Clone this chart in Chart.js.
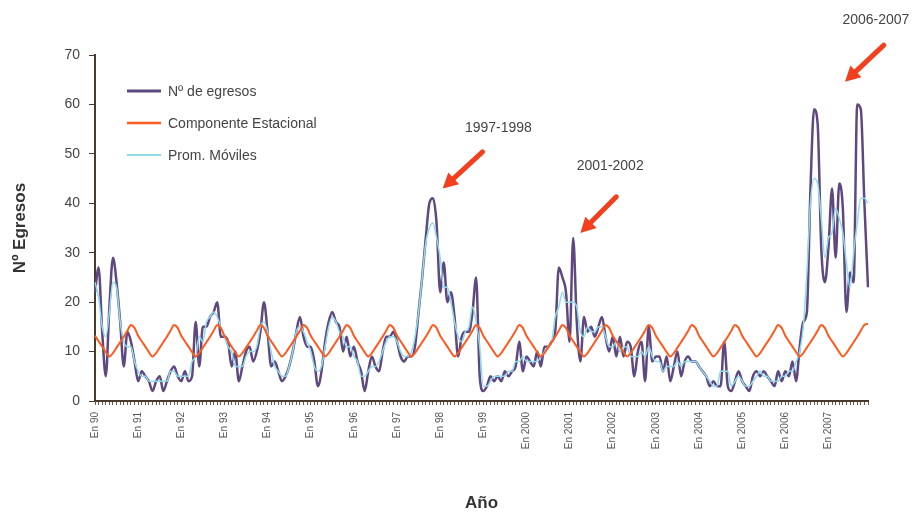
<!DOCTYPE html>
<html>
<head>
<meta charset="utf-8">
<script src="https://cdn.jsdelivr.net/npm/chart.js@4.4.0/dist/chart.umd.min.js"></script>
<style>
  html, body { margin: 0; padding: 0; background: #fff; }
</style>
</head>
<body>
<canvas id="chart" width="918" height="514"></canvas>
<script>
const years = ['En 90', 'En 91', 'En 92', 'En 93', 'En 94', 'En 95', 'En 96', 'En 97', 'En 98', 'En 99',
  'En 2000', 'En 2001', 'En 2002', 'En 2003', 'En 2004', 'En 2005', 'En 2006', 'En 2007'];

// monthly values, one row per year (Jan..Dec)
const egresos = [
  22, 27, 14, 5, 19, 29, 24, 16, 7, 14, 12, 8,
  4, 6, 5, 4, 2, 4, 5, 2, 4, 6, 7, 5,
  4, 6, 4, 5, 16, 7, 15, 15, 17, 18, 20, 13,
  13, 12, 7, 10, 4, 7, 10, 11, 8, 10, 14, 20,
  14, 7, 8, 6, 4, 5, 7, 10, 14, 17, 13, 11,
  11, 8, 3, 6, 12, 16, 18, 16, 15, 10, 13, 9,
  11, 8, 6, 2, 6, 9, 7, 6, 10, 13, 13, 14,
  12, 9, 8, 9, 9, 11, 18, 25, 33, 40, 41, 36,
  22, 28, 20, 22, 17, 9, 13, 14, 14, 18, 25, 5,
  2, 3, 5, 4, 5, 4, 6, 5, 6, 7, 12, 6,
  9, 8, 7, 10, 7, 11, 11, 12, 14, 27, 25, 22,
  12, 33, 16, 8, 17, 14, 15, 13, 15, 17, 13, 10,
  13, 9, 13, 9, 12, 11, 5, 10, 12, 4, 15, 8,
  9, 9, 6, 9, 4, 7, 10, 5, 8, 9, 8, 8,
  7, 6, 5, 3, 4, 3, 3, 12, 3, 2, 4, 6,
  4, 3, 2, 5, 6, 5, 6, 5, 4, 3, 6, 4,
  6, 5, 8, 4, 11, 16, 18, 43, 59, 56, 31, 24,
  31, 43, 29, 44, 39, 18, 26, 24, 60, 59, 40, 23
];

const componenteEstacional = [
  13.2, 12.1, 11.0, 9.9, 9.0, 9.7, 10.8, 11.9, 13.0, 14.2, 15.4, 14.8,
  13.2, 12.1, 11.0, 9.9, 9.0, 9.7, 10.8, 11.9, 13.0, 14.2, 15.4, 14.8,
  13.2, 12.1, 11.0, 9.9, 9.0, 9.7, 10.8, 11.9, 13.0, 14.2, 15.4, 14.8,
  13.2, 12.1, 11.0, 9.9, 9.0, 9.7, 10.8, 11.9, 13.0, 14.2, 15.4, 14.8,
  13.2, 12.1, 11.0, 9.9, 9.0, 9.7, 10.8, 11.9, 13.0, 14.2, 15.4, 14.8,
  13.2, 12.1, 11.0, 9.9, 9.0, 9.7, 10.8, 11.9, 13.0, 14.2, 15.4, 14.8,
  13.2, 12.1, 11.0, 9.9, 9.0, 9.7, 10.8, 11.9, 13.0, 14.2, 15.4, 14.8,
  13.2, 12.1, 11.0, 9.9, 9.0, 9.7, 10.8, 11.9, 13.0, 14.2, 15.4, 14.8,
  13.2, 12.1, 11.0, 9.9, 9.0, 9.7, 10.8, 11.9, 13.0, 14.2, 15.4, 14.8,
  13.2, 12.1, 11.0, 9.9, 9.0, 9.7, 10.8, 11.9, 13.0, 14.2, 15.4, 14.8,
  13.2, 12.1, 11.0, 9.9, 9.0, 9.7, 10.8, 11.9, 13.0, 14.2, 15.4, 14.8,
  13.2, 12.1, 11.0, 9.9, 9.0, 9.7, 10.8, 11.9, 13.0, 14.2, 15.4, 14.8,
  13.2, 12.1, 11.0, 9.9, 9.0, 9.7, 10.8, 11.9, 13.0, 14.2, 15.4, 14.8,
  13.2, 12.1, 11.0, 9.9, 9.0, 9.7, 10.8, 11.9, 13.0, 14.2, 15.4, 14.8,
  13.2, 12.1, 11.0, 9.9, 9.0, 9.7, 10.8, 11.9, 13.0, 14.2, 15.4, 14.8,
  13.2, 12.1, 11.0, 9.9, 9.0, 9.7, 10.8, 11.9, 13.0, 14.2, 15.4, 14.8,
  13.2, 12.1, 11.0, 9.9, 9.0, 9.7, 10.8, 11.9, 13.0, 14.2, 15.4, 14.8,
  13.2, 12.1, 11.0, 9.9, 9.0, 9.7, 10.8, 11.9, 13.0, 14.2, 15.4, 15.6
];

const promMoviles = [
  24, 21, 15, 13, 18, 24, 23, 16, 12, 11, 11, 8,
  6, 5, 5, 4, 4, 4, 4, 4, 4, 6, 6, 5,
  5, 5, 5, 8, 9, 13, 12, 16, 17, 18, 17, 15,
  13, 11, 10, 7, 7, 7, 9, 10, 10, 11, 15, 16,
  14, 10, 7, 6, 5, 5, 7, 10, 14, 15, 14, 12,
  10, 7, 6, 7, 11, 15, 17, 16, 14, 13, 11, 11,
  9, 8, 5, 5, 6, 7, 7, 8, 10, 12, 13, 13,
  12, 10, 9, 9, 10, 13, 18, 25, 32, 35, 36, 33,
  29, 23, 23, 20, 16, 13, 12, 14, 15, 19, 16, 11,
  3, 3, 4, 5, 5, 5, 5, 6, 6, 8, 8, 9,
  8, 8, 8, 8, 9, 10, 11, 12, 17, 19, 22, 20,
  20, 20, 19, 14, 13, 15, 14, 14, 15, 15, 13, 11,
  11, 12, 10, 11, 11, 9, 9, 9, 10, 9, 11, 9,
  8, 8, 6, 7, 7, 7, 8, 7, 8, 8, 8, 8,
  7, 6, 5, 4, 3, 3, 6, 6, 6, 3, 4, 5,
  4, 3, 3, 4, 5, 6, 5, 5, 4, 4, 4, 5,
  5, 6, 6, 8, 10, 15, 26, 40, 45, 44, 37, 29,
  33, 34, 39, 37, 34, 28, 23, 30, 36, 41, 41, 40
];

// annotated periods: month index / value of arrow tip, tail and label
const notes = [
  { text: '1997-1998', tip: [96.7, 43], tail: [107.8, 50.4], label: [112.2, 55.3] },
  { text: '2001-2002', tip: [135, 34], tail: [145, 41.3], label: [143.3, 47.6] },
  { text: '2006-2007', tip: [208.6, 64.6], tail: [219.4, 72], label: [217.2, 77] }
];

const labels = years.flatMap(y => [y, ...Array(11).fill('')]);

const fontFamily = '"Liberation Sans", Arial, sans-serif';
Chart.defaults.font.family = fontFamily;
Chart.defaults.color = '#444';

const notesPlugin = {
  id: 'notes',
  afterDraw(chart) {
    const { ctx, chartArea, scales: { x, y } } = chart;
    ctx.save();

    // legend inside the plot, one row per dataset
    chart.data.datasets.forEach((ds, i) => {
      const ly = chartArea.top + 36 + i * 32;
      const lx = chartArea.left + 32;
      ctx.strokeStyle = ds.borderColor;
      ctx.lineWidth = ds.borderWidth + 0.5;
      ctx.beginPath();
      ctx.moveTo(lx, ly);
      ctx.lineTo(lx + 34, ly);
      ctx.stroke();
      ctx.fillStyle = '#444';
      ctx.font = '14px ' + fontFamily;
      ctx.textAlign = 'left';
      ctx.textBaseline = 'middle';
      ctx.fillText(ds.label, lx + 41, ly + 1);
    });

    // arrows and period labels
    notes.forEach(n => {
      const tx = x.getPixelForValue(n.tip[0]), ty = y.getPixelForValue(n.tip[1]);
      const sx = x.getPixelForValue(n.tail[0]), sy = y.getPixelForValue(n.tail[1]);
      const ang = Math.atan2(ty - sy, tx - sx);
      const head = 15;
      const bx = tx - Math.cos(ang) * head, by = ty - Math.sin(ang) * head;

      ctx.strokeStyle = '#f2401e';
      ctx.fillStyle = '#f2401e';
      ctx.lineWidth = 5;
      ctx.lineCap = 'round';
      ctx.beginPath();
      ctx.moveTo(sx, sy);
      ctx.lineTo(bx, by);
      ctx.stroke();

      ctx.beginPath();
      ctx.moveTo(tx, ty);
      ctx.lineTo(bx + Math.sin(ang) * 8, by - Math.cos(ang) * 8);
      ctx.lineTo(bx - Math.sin(ang) * 8, by + Math.cos(ang) * 8);
      ctx.closePath();
      ctx.fill();

      ctx.fillStyle = '#444';
      ctx.font = '14px ' + fontFamily;
      ctx.textAlign = 'center';
      ctx.textBaseline = 'middle';
      ctx.fillText(n.text, x.getPixelForValue(n.label[0]), y.getPixelForValue(n.label[1]));
    });

    ctx.restore();
  }
};

const ctx = document.getElementById('chart').getContext('2d');

new Chart(ctx, {
  type: 'line',
  data: {
    labels: labels,
    datasets: [
      { label: 'Nº de egresos', data: egresos, borderColor: '#5f4880', borderWidth: 2.5, order: 3 },
      { label: 'Componente Estacional', data: componenteEstacional, borderColor: '#ff5a1e', borderWidth: 2, order: 1 },
      { label: 'Prom. Móviles', data: promMoviles, borderColor: '#8fdcec', borderWidth: 1.5, order: 2 }
    ]
  },
  options: {
    responsive: false,
    animation: false,
    layout: { padding: { top: 55, right: 50, bottom: 0, left: 0 } },
    elements: {
      point: { radius: 0 },
      line: { cubicInterpolationMode: 'monotone' }
    },
    plugins: {
      legend: { display: false },
      tooltip: { enabled: false }
    },
    scales: {
      x: {
        grid: { drawOnChartArea: false, tickLength: 4, color: '#6b5a4a' },
        border: { color: '#4a3a2e', width: 2 },
        ticks: { autoSkip: false, minRotation: 90, maxRotation: 90, padding: 7, font: { size: 10 }, color: '#555' },
        title: { display: true, text: 'Año', font: { size: 17, weight: 'bold' }, color: '#333', padding: 0 },
        afterFit: (scale) => { scale.height = 113; }
      },
      y: {
        min: 0,
        max: 70,
        ticks: { stepSize: 10, padding: 9, font: { size: 14 }, color: '#444' },
        grid: { drawOnChartArea: false, tickLength: 6, color: '#4a3a2e' },
        border: { color: '#4a3a2e', width: 2 },
        title: { display: true, text: 'Nº Egresos', font: { size: 17, weight: 'bold' }, color: '#333', padding: { top: 10 } },
        afterFit: (scale) => { scale.width = 95; }
      }
    }
  },
  plugins: [notesPlugin]
});
</script>
</body>
</html>
